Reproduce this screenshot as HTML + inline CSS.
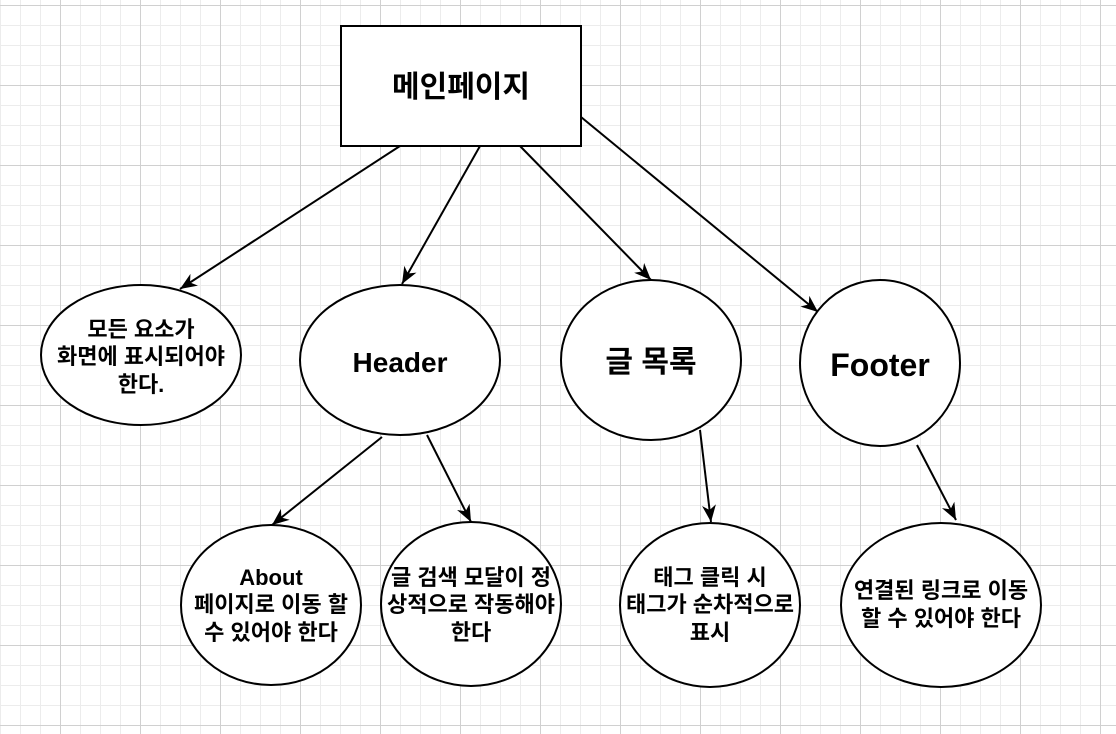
<!DOCTYPE html>
<html><head><meta charset="utf-8"><style>
html,body{margin:0;padding:0;background:#fff;}
svg{display:block;}
text{font-family:"Liberation Sans","Noto Sans CJK KR",sans-serif;font-weight:bold;fill:#000;text-anchor:middle;}
</style></head><body>
<svg width="1116" height="734" viewBox="0 0 1116 734" xmlns="http://www.w3.org/2000/svg">
<defs>
<pattern id="minor" width="20" height="20" patternUnits="userSpaceOnUse" x="0" y="5">
<path d="M0 0.5H20M0.5 0V20" fill="none" stroke="#ececec" stroke-width="1"/>
</pattern>
<pattern id="major" width="80" height="80" patternUnits="userSpaceOnUse" x="60" y="5">
<path d="M0 0.5H80M0.5 0V80" fill="none" stroke="#d0d0d0" stroke-width="1"/>
</pattern>
<marker id="a" markerWidth="20" markerHeight="16" refX="17" refY="7" orient="auto" markerUnits="userSpaceOnUse">
<path d="M0 0L17 7L0 14L5 7Z" fill="#000"/>
</marker>
</defs>
<rect width="1116" height="734" fill="url(#minor)"/>
<rect width="1116" height="734" fill="url(#major)"/>
<g stroke="#000" stroke-width="2" fill="none" marker-end="url(#a)">
<line x1="400" y1="146" x2="180" y2="289"/>
<line x1="480" y1="146" x2="402" y2="284"/>
<line x1="520" y1="146" x2="651" y2="280"/>
<line x1="581" y1="117" x2="818" y2="312"/>
<line x1="382" y1="437" x2="272" y2="525"/>
<line x1="427" y1="435" x2="471" y2="522"/>
<line x1="700" y1="430" x2="711" y2="522"/>
<line x1="917" y1="445" x2="956" y2="520"/>
</g>
<g stroke="#000" stroke-width="2" fill="#fff">
<rect x="341" y="26" width="240" height="120"/>
<ellipse cx="141" cy="355" rx="100" ry="70"/>
<ellipse cx="400" cy="360" rx="100" ry="75"/>
<ellipse cx="651" cy="360" rx="90" ry="80"/>
<ellipse cx="880" cy="363" rx="80" ry="83"/>
<ellipse cx="271" cy="605" rx="90" ry="80"/>
<ellipse cx="471" cy="604" rx="90" ry="82"/>
<ellipse cx="710" cy="605" rx="90" ry="82"/>
<ellipse cx="941" cy="605" rx="100" ry="82"/>
</g>
<text x="461" y="97" font-size="30">메인페이지</text>
<g font-size="22">
<text x="141" y="337">모든 요소가</text>
<text x="141" y="364">화면에 표시되어야</text>
<text x="141" y="392">한다.</text>
</g>
<text x="400" y="372" font-size="28">Header</text>
<text x="651" y="372" font-size="30">글 목록</text>
<text x="880" y="376" font-size="32">Footer</text>
<g font-size="22">
<text x="271" y="585">About</text>
<text x="271" y="612">페이지로 이동 할</text>
<text x="271" y="640">수 있어야 한다</text>
<text x="471" y="585">글 검색 모달이 정</text>
<text x="471" y="612">상적으로 작동해야</text>
<text x="471" y="640">한다</text>
<text x="710" y="585">태그 클릭 시</text>
<text x="710" y="612">태그가 순차적으로</text>
<text x="710" y="640">표시</text>
<text x="941" y="598">연결된 링크로 이동</text>
<text x="941" y="626">할 수 있어야 한다</text>
</g>
</svg>
</body></html>
